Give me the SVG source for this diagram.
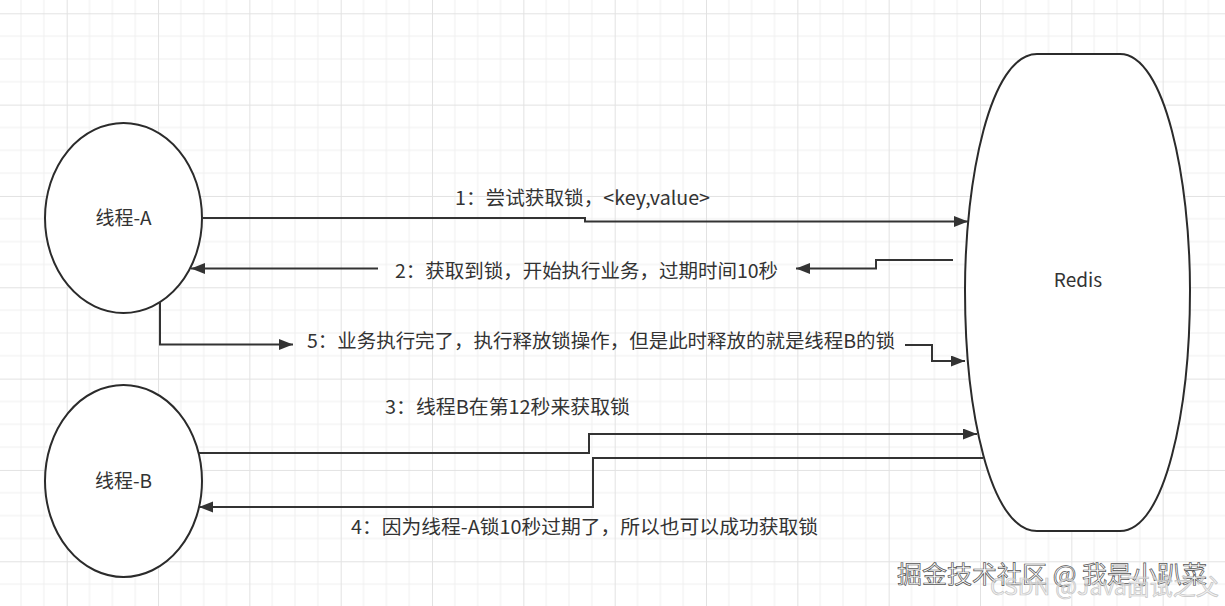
<svg xmlns="http://www.w3.org/2000/svg" width="1225" height="606" viewBox="0 0 1225 606">
<defs>
<pattern id="grid" patternUnits="userSpaceOnUse" x="66.7" y="13.3" width="91.33" height="91.33">
<path d="M22.83,0V91.33M45.67,0V91.33M68.5,0V91.33M0,22.83H91.33M0,45.67H91.33M0,68.5H91.33" stroke="#efefef" stroke-width="1" fill="none"/>
<path d="M0.5,0V91.33M0,0.5H91.33" stroke="#e2e2e2" stroke-width="1" fill="none"/>
</pattern>
<marker id="arr" markerUnits="userSpaceOnUse" markerWidth="16" markerHeight="12" refX="14" refY="5.5" orient="auto">
<path d="M0,0 L14,5.5 L0,11 Z" fill="#333"/>
</marker>
</defs>
<style>
.node{fill:#fff;stroke:#2b2b2b;stroke-width:2}
.edge{fill:none;stroke:#333;stroke-width:2;marker-end:url(#arr)}
.t{font-family:"Noto Sans CJK SC","Microsoft YaHei",sans-serif;font-size:19px;fill:#333}
.wm{font-family:"Noto Sans CJK SC",sans-serif;font-size:24px;fill:#fff;stroke:#555;stroke-width:0.7}
.wm2{font-family:"Noto Sans CJK SC",sans-serif;font-size:23px;fill:#e6e6e6;fill-opacity:0.5;stroke:#c4c4c4;stroke-width:0.7}
</style>
<rect width="1225" height="606" fill="#fff"/>
<rect width="1225" height="606" fill="url(#grid)"/>

<g id="threadA">
<ellipse class="node" cx="123.5" cy="218" rx="78.5" ry="95"/>
<text class="t" x="123.5" y="225" text-anchor="middle">线程-A</text>
</g>
<g id="threadB">
<ellipse class="node" cx="123.5" cy="481" rx="78.5" ry="96"/>
<text class="t" x="123.5" y="488" text-anchor="middle">线程-B</text>
</g>
<g id="redis">
<path class="node" d="M1037,54 H1120 C1165,54 1190,180 1190,290 C1190,410 1165,531 1120,531 H1037 C990,531 965,410 965,290 C965,180 990,54 1037,54 Z"/>
<text class="t" x="1078" y="287" text-anchor="middle">Redis</text>
</g>

<g id="connectors">
<path class="edge" d="M202,218 H585 V221.5 H968"/>
<path class="edge" d="M953,260 H876 V268.5 H796"/>
<path class="edge" d="M378,268.5 H191"/>
<path class="edge" d="M160,302 V344.5 H293"/>
<path class="edge" d="M905,345 H932 V361 H965"/>
<path class="edge" d="M199,453 H589 V434 H977"/>
<path class="edge" d="M983,458 H593 V507 H199"/>
</g>

<g id="labels">
<text class="t" x="455" y="205" textLength="255" lengthAdjust="spacingAndGlyphs">1：尝试获取锁，&lt;key,value&gt;</text>
<text class="t" x="395" y="278" textLength="383" lengthAdjust="spacingAndGlyphs">2：获取到锁，开始执行业务，过期时间10秒</text>
<text class="t" x="307" y="348" textLength="588" lengthAdjust="spacingAndGlyphs">5：业务执行完了，执行释放锁操作，但是此时释放的就是线程B的锁</text>
<text class="t" x="385" y="414" textLength="245" lengthAdjust="spacingAndGlyphs">3：线程B在第12秒来获取锁</text>
<text class="t" x="351" y="534" textLength="467" lengthAdjust="spacingAndGlyphs">4：因为线程-A锁10秒过期了，所以也可以成功获取锁</text>
</g>

<g id="watermark">
<text class="wm" x="897" y="583" textLength="310" lengthAdjust="spacingAndGlyphs">掘金技术社区 @ 我是小趴菜</text>
<text class="wm2" x="990" y="595">CSDN @Java面试之父</text>
</g>
</svg>
